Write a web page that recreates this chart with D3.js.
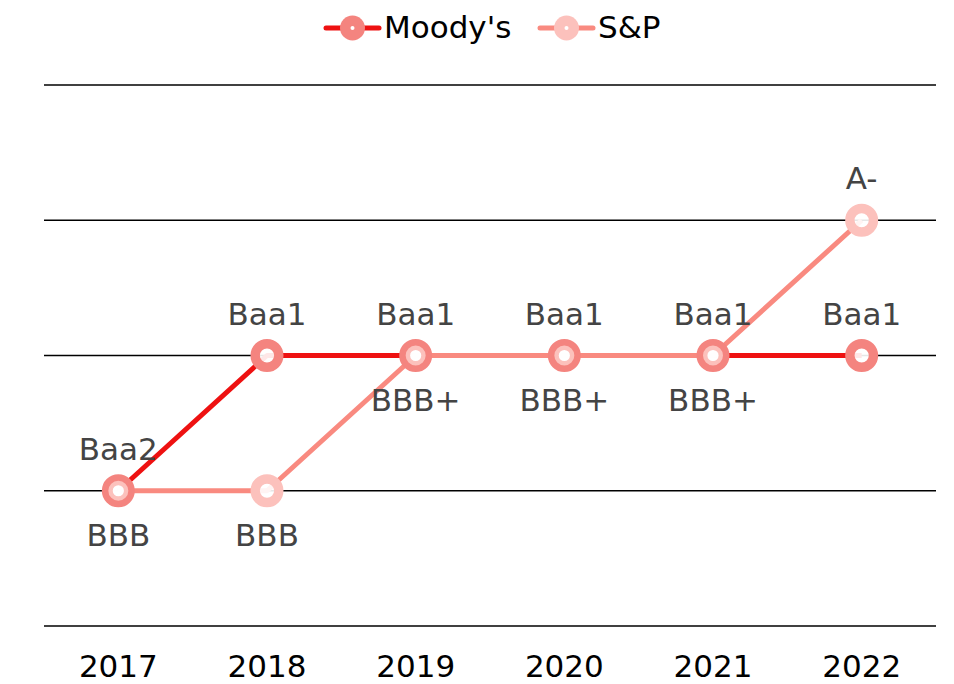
<!DOCTYPE html>
<meta charset="utf-8">
<style>
    html, body {
        margin: 0;
        background: #fff;
    }

    text {
        font-family: "DejaVu Sans", Verdana, sans-serif;
    }

    .grid line {
        stroke: #000;
        stroke-width: 1.5px;
    }

    .point-label {
        fill: #444;
        font-size: 31px;
    }
</style>
<div id="chart"></div>
<script src="https://cdnjs.cloudflare.com/ajax/libs/d3/7.8.5/d3.min.js"></script>
<script>
    // data
    var years = ["2017", "2018", "2019", "2020", "2021", "2022"];
    var moodysLabels = ["Baa2", "Baa1", "Baa1", "Baa1", "Baa1", "Baa1"];
    var moodysLevels = [1, 2, 2, 2, 2, 2];
    var spLabels = ["BBB", "BBB", "BBB+", "BBB+", "BBB+", "A-"];
    var spLevels = [1, 1, 2, 2, 2, 3];
    var gridLevels = [0, 1, 2, 3, 4];

    var width = 954, height = 684;

    var series = [
        {name: "Moody's", levels: moodysLevels, labels: moodysLabels,
         line: "#ee1111", marker: "#f4847f"},
        {name: "S&P", levels: spLevels, labels: spLabels,
         line: "#f98a80", marker: "#fcc1bc"}
    ];

    var svg = d3.select("#chart").append("svg")
        .attr("width", width)
        .attr("height", height);

    var x = d3.scaleBand()
        .domain(years)
        .range([44, 936]);

    var y = d3.scaleLinear()
        .domain([0, 4])
        .range([626, 85]);

    // horizontal grid lines
    svg.append("g")
        .attr("class", "grid")
        .selectAll("line")
        .data(gridLevels)
        .enter().append("line")
        .attr("x1", 44)
        .attr("x2", 936)
        .attr("y1", function(d) { return y(d); })
        .attr("y2", function(d) { return y(d); });

    // x axis labels, no domain line or ticks
    var xAxis = svg.append("g")
        .attr("transform", "translate(0,626)")
        .call(d3.axisBottom(x).tickSize(0).tickPadding(0));
    xAxis.select(".domain").remove();
    xAxis.selectAll("text")
        .attr("y", 51)
        .attr("dy", null)
        .attr("fill", "#000")
        .style("font-size", "31px")
        .style("font-family", "'DejaVu Sans', Verdana, sans-serif");

    function cx(i) { return x(years[i]) + x.bandwidth() / 2; }

    var line = d3.line()
        .x(function(d, i) { return cx(i); })
        .y(function(d) { return y(d); });

    // lines: Moody's first, S&P on top
    svg.append("g")
        .selectAll("path")
        .data(series)
        .enter().append("path")
        .attr("d", function(s) { return line(s.levels); })
        .attr("fill", "none")
        .attr("stroke", function(s) { return s.line; })
        .attr("stroke-width", 5)
        .attr("stroke-linejoin", "round");

    // markers
    series.forEach(function(s, k) {
        var other = series[1 - k];
        svg.append("g")
            .selectAll("circle")
            .data(s.levels)
            .enter().append("circle")
            .attr("cx", function(d, i) { return cx(i); })
            .attr("cy", function(d) { return y(d); })
            // the S&P marker sits smaller on top where both ratings coincide
            .attr("r", function(d, i) {
                return (k === 1 && other.levels[i] === d) ? 7.8 : 11.8;
            })
            .attr("stroke-width", function(d, i) {
                return (k === 1 && other.levels[i] === d) ? 4.4 : 9.4;
            })
            .attr("stroke", s.marker)
            .attr("fill", "#fff")
            .attr("fill-opacity", 0.9);
    });

    // value labels: Moody's always above, S&P below unless it is the higher rating
    series.forEach(function(s, k) {
        var other = series[1 - k];
        svg.append("g")
            .selectAll("text")
            .data(s.labels)
            .enter().append("text")
            .attr("class", "point-label")
            .attr("text-anchor", "middle")
            .attr("x", function(d, i) { return cx(i); })
            .attr("y", function(d, i) {
                var above = k === 0 || s.levels[i] > other.levels[i];
                return y(s.levels[i]) + (above ? -31 : 55);
            })
            .text(function(d) { return d; });
    });

    // legend
    var legendX = [324, 538];
    var legend = svg.append("g")
        .selectAll("g")
        .data(series)
        .enter().append("g")
        .attr("transform", function(d, i) { return "translate(" + legendX[i] + ",28)"; });

    legend.append("line")
        .attr("x1", 2)
        .attr("x2", 55)
        .attr("stroke", function(d) { return d.line; })
        .attr("stroke-width", 5)
        .attr("stroke-linecap", "round");

    legend.append("circle")
        .attr("cx", 28.5)
        .attr("r", 12.5)
        .attr("fill", function(d) { return d.marker; });

    legend.append("circle")
        .attr("cx", 28.5)
        .attr("r", 2)
        .attr("fill", "#fff");

    legend.append("text")
        .attr("x", 60)
        .attr("y", 10)
        .attr("fill", "#000")
        .style("font-size", "31px")
        .text(function(d) { return d.name; });
</script>
